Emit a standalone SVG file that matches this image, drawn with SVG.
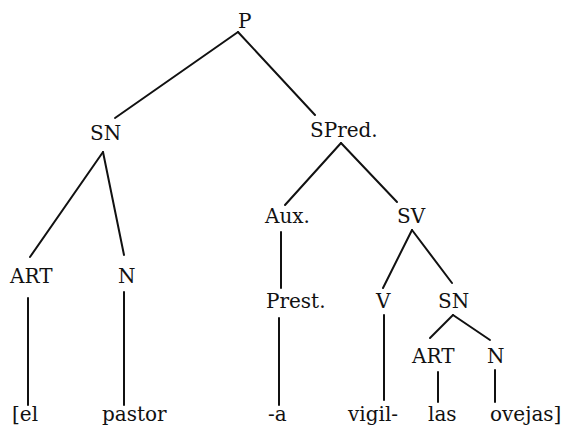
<svg xmlns="http://www.w3.org/2000/svg" width="566" height="427" viewBox="0 0 566 427">
<style>
text { font-family: "DejaVu Serif", "Liberation Serif", serif; font-size: 20px; fill: #111; }
.e { stroke: #111; stroke-width: 2; fill: none; stroke-linecap: round; }
</style>
<rect width="566" height="427" fill="#fff"/>
<g id="connectors">
<line class="e" x1="238" y1="32" x2="115" y2="118"/>
<line class="e" x1="238" y1="32" x2="315" y2="115"/>
<line class="e" x1="103" y1="152" x2="30" y2="257"/>
<line class="e" x1="103" y1="152" x2="124" y2="255"/>
<line class="e" x1="28" y1="298" x2="28" y2="405"/>
<line class="e" x1="124" y1="292" x2="124" y2="405"/>
<line class="e" x1="341" y1="143" x2="285" y2="205"/>
<line class="e" x1="341" y1="143" x2="397" y2="202"/>
<line class="e" x1="281" y1="232" x2="281" y2="288"/>
<line class="e" x1="279" y1="318" x2="279" y2="405"/>
<line class="e" x1="412" y1="230" x2="383" y2="288"/>
<line class="e" x1="412" y1="230" x2="452" y2="283"/>
<line class="e" x1="384" y1="315" x2="384" y2="400"/>
<line class="e" x1="453" y1="315" x2="430" y2="338"/>
<line class="e" x1="453" y1="315" x2="490" y2="340"/>
<line class="e" x1="438" y1="372" x2="438" y2="402"/>
<line class="e" x1="495" y1="370" x2="495" y2="402"/>
</g>
<g id="P"><text x="238" y="28">P</text></g>
<g id="SN1"><text x="90" y="140">SN</text></g>
<g id="SPred"><text x="310" y="137">SPred.</text></g>
<g id="Aux"><text x="265" y="223">Aux.</text></g>
<g id="SV"><text x="397" y="223">SV</text></g>
<g id="ART1"><text x="10" y="283">ART</text></g>
<g id="N1"><text x="118" y="283">N</text></g>
<g id="Prest"><text x="266" y="308">Prest.</text></g>
<g id="V"><text x="376" y="308">V</text></g>
<g id="SN2"><text x="438" y="308">SN</text></g>
<g id="ART2"><text x="412" y="363">ART</text></g>
<g id="N2"><text x="487" y="363">N</text></g>
<g id="el"><text x="12" y="421">[el</text></g>
<g id="pastor"><text x="102" y="421">pastor</text></g>
<g id="a"><text x="268" y="421">-a</text></g>
<g id="vigil"><text x="348" y="421">vigil-</text></g>
<g id="las"><text x="428" y="421">las</text></g>
<g id="ovejas"><text x="490" y="421">ovejas]</text></g>
</svg>
